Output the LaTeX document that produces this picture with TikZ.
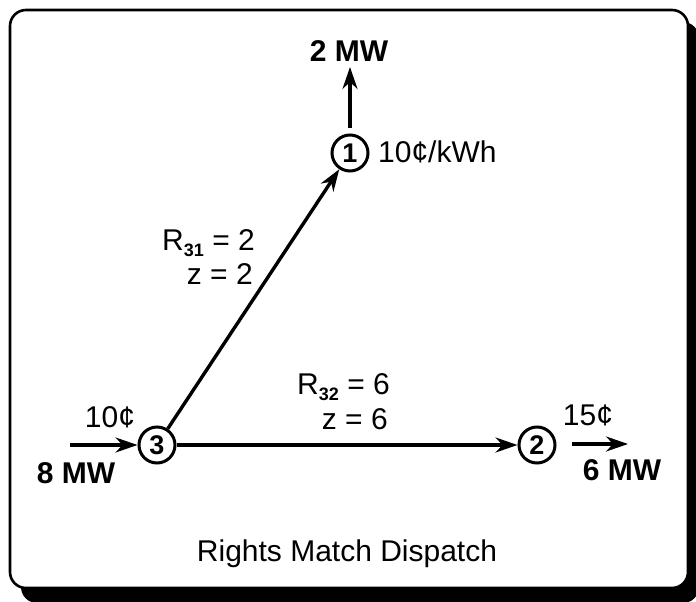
\documentclass[tikz,border=0pt]{standalone}
\usepackage{fontspec}
\setmainfont{Liberation Sans}
\usetikzlibrary{arrows.meta}
\begin{document}
\begin{tikzpicture}[x=1pt,y=-1pt,
  bus/.style={circle, draw, line width=3pt, minimum size=36pt, inner sep=0pt,
    font=\fontsize{27}{27}\selectfont\bfseries},
  flow/.style={line width=3.4pt, -{Stealth[length=22pt,width=15pt]}},
  lbl/.style={font=\fontsize{30}{33}\selectfont, inner sep=0pt},
  mw/.style={font=\fontsize{30}{33}\selectfont\bfseries, inner sep=0pt},
  frame/.style={line width=2.6pt, fill=white, rounded corners=16pt},
  shadow/.style={fill=black, rounded corners=16pt}]
\useasboundingbox (0,0) rectangle (696,602);
\fill[shadow] (21,22) rectangle (699,603);
\draw[frame] (10,10) rectangle (688,588);

\node[bus] (n1) at (350,153) {1};
\node[bus] (n3) at (157,445) {3};
\node[bus] (n2) at (537,445) {2};

\draw[flow] (n3) -- (n1);
\draw[flow] (n3) -- (n2);

\coordinate (u1a) at (350,128);
\coordinate (u1b) at (350,67);
\draw[flow] (u1a) -- (u1b);

\coordinate (in3) at (70,445);
\draw[flow] (in3) -- (n3);

\coordinate (o2a) at (572,444);
\coordinate (o2b) at (628,444);
\draw[flow] (o2a) -- (o2b);

\newcommand{\subb}[1]{\raisebox{-6pt}{\fontsize{18}{18}\selectfont\bfseries #1}}

\node[mw, anchor=base] (t2mw) at (349,62) {2 MW};
\node[lbl, anchor=base west] (p1) at (378,162) {10¢/kWh};
\node[lbl, anchor=base] (p3) at (110,427) {10¢};
\node[mw, anchor=base] (t8mw) at (76,483) {8 MW};
\node[lbl, anchor=base] (p2) at (588,425) {15¢};
\node[mw, anchor=base] (t6mw) at (622,480) {6 MW};

\node[lbl, anchor=base east] (r31) at (255,250) {R\subb{31} = 2};
\node[lbl, anchor=base east] (z31) at (253,284) {z = 2};
\node[lbl, anchor=base east] (r32) at (390,394) {R\subb{32} = 6};
\node[lbl, anchor=base east] (z32) at (388,429) {z = 6};

\node[lbl, anchor=base] (title) at (347,561) {Rights Match Dispatch};
\end{tikzpicture}
\end{document}
